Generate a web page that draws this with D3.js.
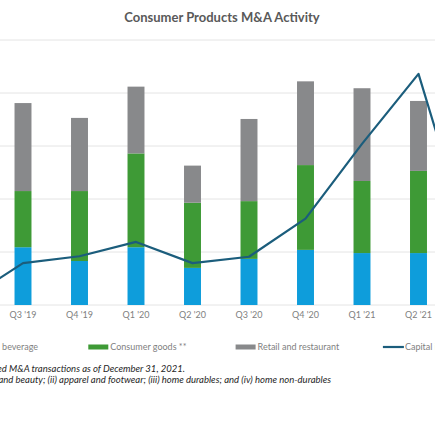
<!DOCTYPE html>
<html>
<head>
<meta charset="utf-8">
<script src="https://cdn.jsdelivr.net/npm/d3@7"></script>
<style>
	body { margin: 0; background: #fff; }
	svg { display: block; font-family: Lato, "Open Sans", sans-serif; }
</style>
</head>
<body>
<svg width="435" height="435"></svg>
<script>
// quarters, the first and last sit just outside the visible crop
var quarters = ["Q2 '19", "Q3 '19", "Q4 '19", "Q1 '20", "Q2 '20", "Q3 '20", "Q4 '20", "Q1 '21", "Q2 '21", "Q3 '21"];
var foodBeverage = [95, 109, 83, 109, 70, 87, 104, 98, 98, 100];
var consumerGoods = [120, 106, 132, 177, 123, 109, 160, 136, 155, 140];
var retailRestaurant = [150, 166, 138, 126, 70, 155, 158, 175, 132, 150];
var capitalInvested = [1, 7.9, 9.2, 11.9, 7.9, 9.1, 16.3, 30.4, 43.6, 8.5];
var seriesNames = ["Food and beverage", "Consumer goods **", "Retail and restaurant", "Capital invested ($bn)"];
var leftTicks = [0, 100, 200, 300, 400, 500];
var footnotes = [
	"Source: PitchBook. Includes announced and closed M&A transactions as of December 31, 2021.",
	"** Consumer goods include: (i) personal care and beauty; (ii) apparel and footwear; (iii) home durables; and (iv) home non-durables"
];

var colors = ["#0e9ddb", "#3e9a36", "#88898b", "#1b5d7c"];

var svg = d3.select("svg");

var x = d3.scaleBand()
	.domain(quarters)
	.range([-61.75, 503.25])
	.paddingInner(0.7)
	.paddingOuter(0.35);

var y = d3.scaleLinear().domain([0, 500]).range([305, 40]);
var y2 = d3.scaleLinear().domain([0, 50]).range([305, 40]);

// title
svg.append("text")
	.attr("x", 222)
	.attr("y", 22)
	.attr("text-anchor", "middle")
	.attr("font-size", 13)
	.attr("font-weight", "bold")
	.attr("fill", "#595959")
	.text("Consumer Products M&A Activity");

// gridlines
svg.append("g")
	.selectAll("line")
	.data(leftTicks)
	.enter().append("line")
	.attr("x1", 0).attr("x2", 435)
	.attr("y1", function(d){ return y(d); })
	.attr("y2", function(d){ return y(d); })
	.attr("stroke", "#e4e4e4")
	.attr("stroke-width", 1);

// stacked bars
var table = quarters.map(function(q, i){
	return {q: q, a: foodBeverage[i], b: consumerGoods[i], c: retailRestaurant[i]};
});
var stack = d3.stack().keys(["a", "b", "c"])(table);

svg.append("g")
	.selectAll("g")
	.data(stack)
	.enter().append("g")
	.attr("fill", function(d, i){ return colors[i]; })
	.selectAll("rect")
	.data(function(d){ return d; })
	.enter().append("rect")
	.attr("x", function(d){ return x(d.data.q); })
	.attr("width", x.bandwidth())
	.attr("y", function(d){ return y(d[1]); })
	.attr("height", function(d){ return y(d[0]) - y(d[1]); });

// capital invested line
var line = d3.line()
	.x(function(d, i){ return x(quarters[i]) + x.bandwidth() / 2; })
	.y(function(d){ return y2(d); });

svg.append("path")
	.datum(capitalInvested)
	.attr("d", line)
	.attr("fill", "none")
	.attr("stroke", colors[3])
	.attr("stroke-width", 2.2)
	.attr("stroke-linejoin", "round");

// x axis labels
var xAxis = d3.axisBottom(x).tickSize(0).tickPadding(7);
var gx = svg.append("g")
	.attr("transform", "translate(0,305)")
	.call(xAxis);
gx.select(".domain").remove();
gx.selectAll("text")
	.attr("font-family", "Lato, 'Open Sans', sans-serif")
	.attr("font-size", 9)
	.attr("fill", "#808080");

// legend
var legend = svg.append("g")
	.selectAll("g")
	.data(seriesNames)
	.enter().append("g")
	.attr("transform", function(d, i){ return "translate(" + (-59 + i * 147.3) + ",347)"; });

legend.append("rect")
	.filter(function(d, i){ return i < 3; })
	.attr("x", 0).attr("y", -2.5)
	.attr("width", 20).attr("height", 5)
	.attr("fill", function(d){ return colors[seriesNames.indexOf(d)]; });

legend.filter(function(d, i){ return i == 3; })
	.append("line")
	.attr("x1", 0).attr("x2", 21)
	.attr("stroke", colors[3])
	.attr("stroke-width", 2.2);

legend.append("text")
	.attr("x", 22)
	.attr("y", 3.2)
	.attr("font-size", 9)
	.attr("fill", "#7f7f7f")
	.text(function(d){ return d; });

// footnotes, cropped on the left
svg.append("g")
	.selectAll("text")
	.data(footnotes)
	.enter().append("text")
	.attr("x", function(d, i){ return i == 0 ? 185 : 331; })
	.attr("y", function(d, i){ return 371.5 + i * 11; })
	.attr("text-anchor", "end")
	.attr("font-size", 9.5)
	.attr("font-style", "italic")
	.attr("fill", "#262626")
	.text(function(d){ return d; });
</script>
</body>
</html>
